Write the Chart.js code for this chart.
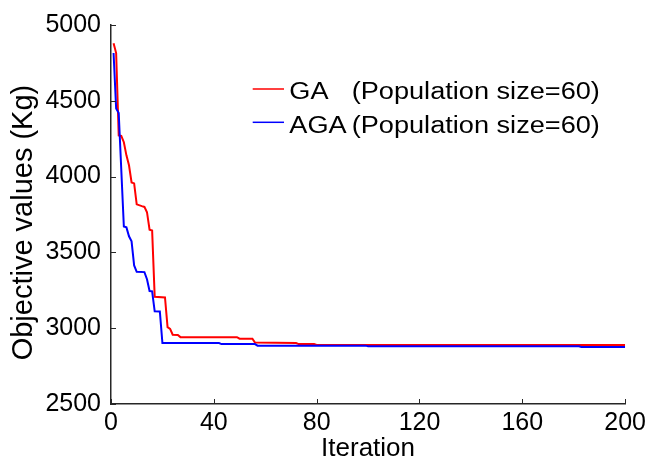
<!DOCTYPE html>
<html><head><meta charset="utf-8">
<script src="https://cdn.jsdelivr.net/npm/chart.js@4.4.0/dist/chart.umd.min.js"></script>
<style>html,body{margin:0;padding:0;background:#fff;}#c{display:block;}</style>
</head><body>
<canvas id="c" width="650" height="462"></canvas>
<script>
const gaIter  = [1,2,3,4,5,6,7,8,9,10,12,13,14,15,16,17,21,22,23,24,26,27,49,50,55,56,72,73,79,80,200];
const gaValue = [4880,4815,4271,4268,4227,4140,4075,3961,3955,3817,3805,3800,3765,3650,3645,3207,3203,3007,2996,2957,2955,2941,2941,2931,2931,2905,2902,2895,2895,2889,2889];
const agaIter  = [1,2,3,5,6,7,8,9,10,13,14,15,16,17,19,20,42,43,56,57,99,100,182,183,200];
const agaValue = [4815,4450,4420,3671,3665,3606,3573,3414,3372,3370,3323,3245,3243,3111,3110,2902,2902,2895,2895,2885,2885,2881,2881,2876,2876];
const xTicks = [0,40,80,120,160,200];
const yTicks = [2500,3000,3500,4000,4500,5000];
const seriesNames = ['GA', 'AGA'];
const seriesNote = '(Population size=60)';
const xTitle = 'Iteration';
const yTitle = 'Objective values (Kg)';

const FONT = '"Liberation Sans", Arial, sans-serif';
const AXIS = '#262626';
const toPts = (xs, ys) => xs.map((v, i) => ({x: v, y: ys[i]}));

const innerTicks = {
  id: 'innerTicks',
  afterDraw(chart) {
    const {ctx, chartArea: a, scales: {x, y}} = chart;
    ctx.save();
    ctx.strokeStyle = AXIS; ctx.lineWidth = 1;
    x.ticks.forEach(t => { const p = Math.round(x.getPixelForValue(t.value)) + 0.5;
      ctx.beginPath(); ctx.moveTo(p, a.bottom); ctx.lineTo(p, a.bottom - 5); ctx.stroke(); });
    y.ticks.forEach(t => { const p = Math.round(y.getPixelForValue(t.value)) + 0.5;
      ctx.beginPath(); ctx.moveTo(a.left, p); ctx.lineTo(a.left + 5, p); ctx.stroke(); });
    ctx.restore();
  }
};

const innerLegend = {
  id: 'innerLegend',
  afterDraw(chart) {
    const {ctx} = chart;
    const rows = [{y: 89, base: 99.3}, {y: 122.3, base: 132.6}];
    ctx.save();
    chart.data.datasets.slice().sort((a, b) => a.legendIndex - b.legendIndex).forEach((ds, i) => {
      const r = rows[i];
      ctx.strokeStyle = ds.borderColor; ctx.lineWidth = 1.5;
      ctx.beginPath(); ctx.moveTo(252.7, r.y); ctx.lineTo(284, r.y); ctx.stroke();
      ctx.fillStyle = '#000';
      ctx.font = '23px ' + FONT;
      ctx.textBaseline = 'alphabetic'; ctx.textAlign = 'left';
      [[ds.label, 289.3], [seriesNote, 351.7]].forEach(([txt, px]) => {
        ctx.save(); ctx.translate(px, r.base); ctx.scale(1.18, 1); ctx.fillText(txt, 0, 0); ctx.restore();
      });
    });
    ctx.restore();
  }
};

new Chart(document.getElementById('c'), {
  type: 'line',
  data: {
    datasets: [
      {label: seriesNames[0], legendIndex: 0, data: toPts(gaIter, gaValue), borderColor: '#ff0000', borderWidth: 2, pointRadius: 0, tension: 0, order: 2},
      {label: seriesNames[1], legendIndex: 1, data: toPts(agaIter, agaValue), borderColor: '#0000ff', borderWidth: 2, pointRadius: 0, tension: 0, order: 1}
    ]
  },
  options: {
    responsive: false, animation: false, devicePixelRatio: 1,
    layout: {padding: {top: 22, right: 24, left: 0, bottom: 0}},
    plugins: {legend: {display: false}, tooltip: {enabled: false}},
    scales: {
      x: {
        type: 'linear', min: 0, max: 200,
        afterBuildTicks: s => { s.ticks = xTicks.map(v => ({value: v})); },
        afterFit: s => { s.height = 58; },
        grid: {display: true, drawOnChartArea: false, drawTicks: false},
        border: {display: true, color: AXIS, width: 1.5},
        ticks: {color: '#000', font: {family: FONT, size: 25}, padding: 4, maxRotation: 0, callback: v => String(v)},
        title: {display: true, text: xTitle, color: '#000', font: {family: FONT, size: 26, lineHeight: 1}, padding: 0}
      },
      y: {
        type: 'linear', min: 2500, max: 5000,
        afterBuildTicks: s => { s.ticks = yTicks.map(v => ({value: v})); },
        afterFit: s => { s.width = 111; },
        grid: {display: true, drawOnChartArea: false, drawTicks: false},
        border: {display: true, color: AXIS, width: 1.5},
        ticks: {color: '#000', font: {family: FONT, size: 25}, padding: 10, callback: v => String(v)},
        title: {display: true, text: yTitle + '  ', color: '#000', font: {family: FONT, size: 29, lineHeight: 1}, padding: {top: 9.5, bottom: 0}}
      }
    }
  },
  plugins: [innerTicks, innerLegend]
});
</script>
</body></html>
